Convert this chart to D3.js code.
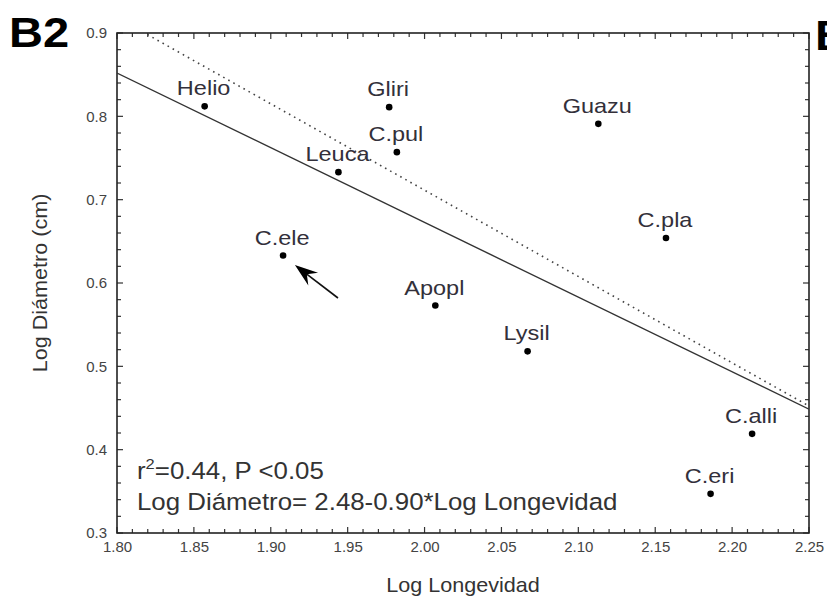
<!DOCTYPE html>
<html>
<head>
<meta charset="utf-8">
<script src="https://cdn.jsdelivr.net/npm/d3@7"></script>
<style>
  html, body { margin: 0; padding: 0; background: #fff; }
  svg { display: block; }
  text { font-family: "Liberation Sans", Arial, sans-serif; }
</style>
</head>
<body>
<svg id="chart" width="827" height="605"></svg>
<script>
// ---- data ----
const species = ["Helio", "Gliri", "C.pul", "Guazu", "Leuca", "C.ele", "C.pla", "Apopl", "Lysil", "C.alli", "C.eri"];
const logLongevidad = [1.857, 1.977, 1.982, 2.113, 1.944, 1.908, 2.157, 2.007, 2.067, 2.213, 2.186];
const logDiametro   = [0.812, 0.811, 0.757, 0.791, 0.733, 0.633, 0.654, 0.573, 0.518, 0.419, 0.347];
const xTickValues = [1.80, 1.85, 1.90, 1.95, 2.00, 2.05, 2.10, 2.15, 2.20, 2.25];
const yTickValues = [0.3, 0.4, 0.5, 0.6, 0.7, 0.8, 0.9];
// fitted line (solid) and second line (dotted): intercept, slope
const fitSolid = [2.4655, -0.8964];
const fitDotted = [2.7834, -1.036];
// arrow pointing at C.ele: [tailX, tailY, headX, headY] in data units
const arrowData = [1.9437, 0.582, 1.9157, 0.6215];
const statText1 = "=0.44, P <0.05";
const statText2 = "Log Diámetro= 2.48-0.90*Log Longevidad";

// ---- layout ----
const svg = d3.select("#chart");
const x = d3.scaleLinear().domain([1.80, 2.25]).range([117, 809]);
const y = d3.scaleLinear().domain([0.3, 0.9]).range([533, 33]);
const x0 = x.range()[0], x1 = x.range()[1], y0 = y.range()[0], y1 = y.range()[1];

svg.append("defs").append("clipPath").attr("id", "plotclip")
  .append("rect").attr("x", x0).attr("y", y1).attr("width", x1 - x0).attr("height", y0 - y1);

// panel labels
svg.append("text").attr("transform", "translate(9,47) scale(1.12,1)")
  .attr("font-size", 42).attr("font-weight", "bold").attr("fill", "#000").text("B2");
svg.append("text").attr("transform", "translate(815,50) scale(1.12,1)")
  .attr("font-size", 42).attr("font-weight", "bold").attr("fill", "#000").text("B");

// minor / major ticks (inside, all four sides)
const xMinor = d3.range(0, 46).map(i => 1.80 + i * 0.01);
const yMinor = d3.range(0, 31).map(i => 0.3 + i * 0.02);
const tickG = svg.append("g").attr("stroke", "#333").attr("stroke-width", 1.2);
xMinor.forEach((v, i) => {
  const len = (i % 5 === 0) ? 6 : 4;
  tickG.append("line").attr("x1", x(v)).attr("x2", x(v)).attr("y1", y0).attr("y2", y0 - len);
  tickG.append("line").attr("x1", x(v)).attr("x2", x(v)).attr("y1", y1).attr("y2", y1 + len);
});
yMinor.forEach((v, i) => {
  const len = (i % 5 === 0) ? 6 : 4;
  tickG.append("line").attr("x1", x0).attr("x2", x0 + len).attr("y1", y(v)).attr("y2", y(v));
  tickG.append("line").attr("x1", x1).attr("x2", x1 - len).attr("y1", y(v)).attr("y2", y(v));
});

// frame
svg.append("rect").attr("x", x0).attr("y", y1).attr("width", x1 - x0).attr("height", y0 - y1)
  .attr("fill", "none").attr("stroke", "#222").attr("stroke-width", 1.6);

// tick labels via d3 axes
const xAxis = svg.append("g").attr("transform", `translate(0,${y0})`)
  .call(d3.axisBottom(x).tickValues(xTickValues).tickSize(0).tickPadding(8).tickFormat(d3.format(".2f")));
xAxis.select(".domain").remove();
xAxis.selectAll("text").attr("font-size", 15).attr("fill", "#444")
  .attr("font-family", "Liberation Sans, Arial, sans-serif");

const yAxis = svg.append("g").attr("transform", `translate(${x0},0)`)
  .call(d3.axisLeft(y).tickValues(yTickValues).tickSize(0).tickPadding(10).tickFormat(d3.format(".1f")));
yAxis.select(".domain").remove();
yAxis.selectAll("text").attr("font-size", 15).attr("fill", "#444")
  .attr("font-family", "Liberation Sans, Arial, sans-serif");

// axis titles
svg.append("text").attr("transform", `translate(${(x0 + x1) / 2},592) scale(1.08,1)`)
  .attr("text-anchor", "middle").attr("font-size", 20).attr("fill", "#333").text("Log Longevidad");
svg.append("text").attr("transform", `translate(47,${(y0 + y1) / 2}) rotate(-90) scale(1.08,1)`)
  .attr("text-anchor", "middle").attr("font-size", 20).attr("fill", "#333").text("Log Diámetro (cm)");

// lines
const plot = svg.append("g").attr("clip-path", "url(#plotclip)");
const dom = x.domain();
plot.append("line")
  .attr("x1", x(dom[0])).attr("y1", y(fitSolid[0] + fitSolid[1] * dom[0]))
  .attr("x2", x(dom[1])).attr("y2", y(fitSolid[0] + fitSolid[1] * dom[1]))
  .attr("stroke", "#333").attr("stroke-width", 1.4);
plot.append("line")
  .attr("x1", x(dom[0])).attr("y1", y(fitDotted[0] + fitDotted[1] * dom[0]))
  .attr("x2", x(dom[1])).attr("y2", y(fitDotted[0] + fitDotted[1] * dom[1]))
  .attr("stroke", "#444").attr("stroke-width", 1.6).attr("stroke-dasharray", "1.6,4.2");

// points
const pts = species.map((s, i) => ({ s, lx: logLongevidad[i], ly: logDiametro[i] }));
svg.append("g").selectAll("circle").data(pts).join("circle")
  .attr("cx", d => x(d.lx)).attr("cy", d => y(d.ly)).attr("r", 3.3).attr("fill", "#000");
svg.append("g").selectAll("text").data(pts).join("text")
  .attr("transform", d => `translate(${x(d.lx) - 1},${y(d.ly) - 11}) scale(1.12,1)`)
  .attr("text-anchor", "middle").attr("font-size", 21).attr("fill", "#33303a").text(d => d.s);

// arrow
const ax1 = x(arrowData[0]), ay1 = y(arrowData[1]), ax2 = x(arrowData[2]), ay2 = y(arrowData[3]);
const ang = Math.atan2(ay2 - ay1, ax2 - ax1);
svg.append("line").attr("x1", ax1).attr("y1", ay1)
  .attr("x2", ax2 - 12 * Math.cos(ang)).attr("y2", ay2 - 12 * Math.sin(ang))
  .attr("stroke", "#111").attr("stroke-width", 1.6);
const L = 23, W = 8, notch = 15;
const ux = Math.cos(ang), uy = Math.sin(ang), px = -uy, py = ux;
const head = [
  [ax2, ay2],
  [ax2 - L * ux + W * px, ay2 - L * uy + W * py],
  [ax2 - notch * ux, ay2 - notch * uy],
  [ax2 - L * ux - W * px, ay2 - L * uy - W * py]
];
svg.append("path").attr("d", d3.line()(head) + "Z").attr("fill", "#000");

// stats annotation
const st = svg.append("text").attr("transform", "translate(137,479) scale(1.1,1)")
  .attr("font-size", 23.5).attr("fill", "#333");
st.append("tspan").text("r");
st.append("tspan").attr("font-size", 15).attr("dy", -10).text("2");
st.append("tspan").attr("dy", 10).text(statText1);
svg.append("text").attr("transform", "translate(137,510) scale(1.1,1)")
  .attr("font-size", 23.5).attr("fill", "#333").text(statText2);
</script>
</body>
</html>
